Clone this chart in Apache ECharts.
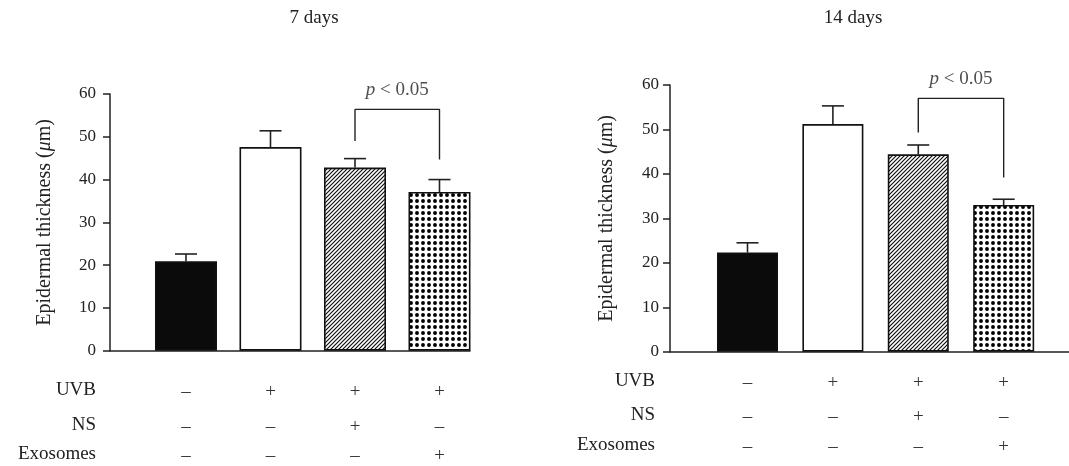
<!DOCTYPE html>
<html>
<head>
<meta charset="utf-8">
<script src="https://cdn.jsdelivr.net/npm/echarts@6/dist/echarts.min.js"></script>
<style>
html,body{margin:0;padding:0;background:#fff;}
#c{width:1069px;height:466px;}
</style>
</head>
<body>
<div id="c"></div>
<script>
// ---------- data ----------
const categories = ['Control', 'UVB', 'UVB + NS', 'UVB + Exosomes'];
const panelTitles = ['7 days', '14 days'];
const yTicks = [0, 10, 20, 30, 40, 50, 60];
const mean7 = [20.9, 47.6, 42.8, 37.1];
const sem7 = [1.7, 3.8, 2.1, 2.9];
const mean14 = [22.3, 51.2, 44.4, 33.0];
const sem14 = [2.2, 4.1, 2.1, 1.3];
// significance brackets: [leftLegBottom, top, rightLegBottom]
const bracket7 = [49.0, 56.4, 44.7];
const bracket14 = [49.3, 57.0, 39.2];
const pText = 'p < 0.05';
const rowLabels = ['UVB', 'NS', 'Exosomes'];
const uvbRow = ['\u2013', '+', '+', '+'];
const nsRow = ['\u2013', '\u2013', '+', '\u2013'];
const exoRow = ['\u2013', '\u2013', '\u2013', '+'];

// ---------- styles ----------
const FONT = '"Liberation Serif", "Times New Roman", serif';
const INK = '#222';

function hatchPattern() {
  const c = document.createElement('canvas');
  c.width = 4; c.height = 4;
  const g = c.getContext('2d');
  g.fillStyle = '#fff'; g.fillRect(0, 0, 4, 4);
  g.strokeStyle = '#111'; g.lineWidth = 1.2;
  g.beginPath();
  g.moveTo(-1, 5); g.lineTo(5, -1);
  g.moveTo(-1, 1); g.lineTo(1, -1);
  g.moveTo(3, 5); g.lineTo(5, 3);
  g.stroke();
  return c;
}
function dotPattern() {
  const c = document.createElement('canvas');
  c.width = 6; c.height = 6;
  const g = c.getContext('2d');
  g.fillStyle = '#fff'; g.fillRect(0, 0, 6, 6);
  g.fillStyle = '#000';
  g.beginPath(); g.arc(3, 3, 1.95, 0, Math.PI * 2); g.fill();
  return c;
}
const fills = [
  '#0b0b0b',
  '#ffffff',
  { image: hatchPattern(), repeat: 'repeat' },
  { image: dotPattern(), repeat: 'repeat' }
];

const panels = [
  { grid: { left: 110, top: 94, width: 360, height: 256.7 }, xmin: 0.1006, xmax: 4.361, barW: 62, nameGap: 55, labelMargin: 14,
    mean: mean7, sem: sem7, br: bracket7 },
  { grid: { left: 670, top: 85, width: 399, height: 266.7 }, xmin: 0.0925, xmax: 4.765, barW: 61, nameGap: 53, labelMargin: 11,
    mean: mean14, sem: sem14, br: bracket14 }
];

const chart = echarts.init(document.getElementById('c'), null, { renderer: 'canvas' });

const option = {
  animation: false,
  backgroundColor: '#fff',
  title: [
    { text: panelTitles[0], left: 309, top: 4, textAlign: 'center', textStyle: { fontFamily: FONT, fontSize: 19, fontWeight: 'normal', color: INK } },
    { text: panelTitles[1], left: 848, top: 4, textAlign: 'center', textStyle: { fontFamily: FONT, fontSize: 19, fontWeight: 'normal', color: INK } }
  ],
  grid: panels.map(p => Object.assign({ containLabel: false }, p.grid)),
  xAxis: panels.map((p, i) => ({
    type: 'value', gridIndex: i, min: p.xmin, max: p.xmax,
    axisLine: { show: true, onZero: false, lineStyle: { color: INK, width: 1.5 } },
    axisTick: { show: false }, axisLabel: { show: false }, splitLine: { show: false }
  })),
  yAxis: panels.map((p, i) => ({
    type: 'value', gridIndex: i, min: yTicks[0], max: yTicks[yTicks.length - 1], interval: 10,
    name: 'Epidermal thickness ({i|\u03bc}m)', nameLocation: 'middle', nameGap: p.nameGap,
    nameTextStyle: { fontFamily: FONT, fontSize: 20, color: INK,
      rich: { i: { fontFamily: FONT, fontSize: 20, fontStyle: 'italic', color: INK } } },
    axisLine: { show: true, lineStyle: { color: INK, width: 1.5 } },
    axisTick: { show: true, length: 7, lineStyle: { color: INK, width: 1.5 } },
    axisLabel: { fontFamily: FONT, fontSize: 17, color: INK, margin: p.labelMargin },
    splitLine: { show: false }
  })),
  series: []
};

panels.forEach((p, i) => {
  option.series.push({
    type: 'bar', xAxisIndex: i, yAxisIndex: i, barWidth: p.barW, z: 3,
    data: categories.map((c, k) => ({
      value: [k + 1, p.mean[k]],
      itemStyle: { color: fills[k], borderColor: '#111', borderWidth: 1.6 }
    }))
  });
  option.series.push({
    type: 'custom', xAxisIndex: i, yAxisIndex: i, z: 2,
    data: categories.map((c, k) => [k + 1, p.mean[k], p.sem[k]]),
    renderItem: function (params, api) {
      const x = api.value(0), m = api.value(1), e = api.value(2);
      const a = api.coord([x, m]);
      const b = api.coord([x, m + e]);
      const hw = 11;
      const st = { stroke: INK, lineWidth: 1.6 };
      return { type: 'group', children: [
        { type: 'line', shape: { x1: a[0], y1: a[1], x2: b[0], y2: b[1] }, style: st },
        { type: 'line', shape: { x1: b[0] - hw, y1: b[1], x2: b[0] + hw, y2: b[1] }, style: st }
      ] };
    }
  });
  option.series.push({
    type: 'line', xAxisIndex: i, yAxisIndex: i, symbol: 'none', z: 4,
    lineStyle: { color: INK, width: 1.4 },
    data: [[3, p.br[0]], [3, p.br[1]], [4, p.br[1]], [4, p.br[2]]]
  });
  option.series.push({
    type: 'scatter', xAxisIndex: i, yAxisIndex: i, symbolSize: 0, z: 5,
    data: [[3.5, p.br[1]]],
    label: {
      show: true, position: 'top', distance: 10,
      formatter: '{i|p} < 0.05',
      fontFamily: FONT, fontSize: 19, color: INK,
      rich: { i: { fontFamily: FONT, fontSize: 19, fontStyle: 'italic', color: INK } }
    }
  });
});

chart.setOption(option);

// ---------- condition table below each panel ----------
const rowsY = [[390, 425, 454], [381, 415, 445]];
const labelRight = [96, 655];
const rows = [uvbRow, nsRow, exoRow];
const graphics = [];
panels.forEach((p, i) => {
  rowLabels.forEach((lab, r) => {
    graphics.push({ type: 'text', x: labelRight[i], y: rowsY[i][r],
      style: { text: lab, font: '19px ' + FONT, fill: INK, align: 'right', verticalAlign: 'middle' } });
    categories.forEach((c, k) => {
      const px = chart.convertToPixel({ xAxisIndex: i, yAxisIndex: i }, [k + 1, 0])[0];
      graphics.push({ type: 'text', x: px, y: rowsY[i][r] + 2,
        style: { text: rows[r][k], font: '19px ' + FONT, fill: '#333', align: 'center', verticalAlign: 'middle' } });
    });
  });
});
chart.setOption({ graphic: graphics });
</script>
</body>
</html>
